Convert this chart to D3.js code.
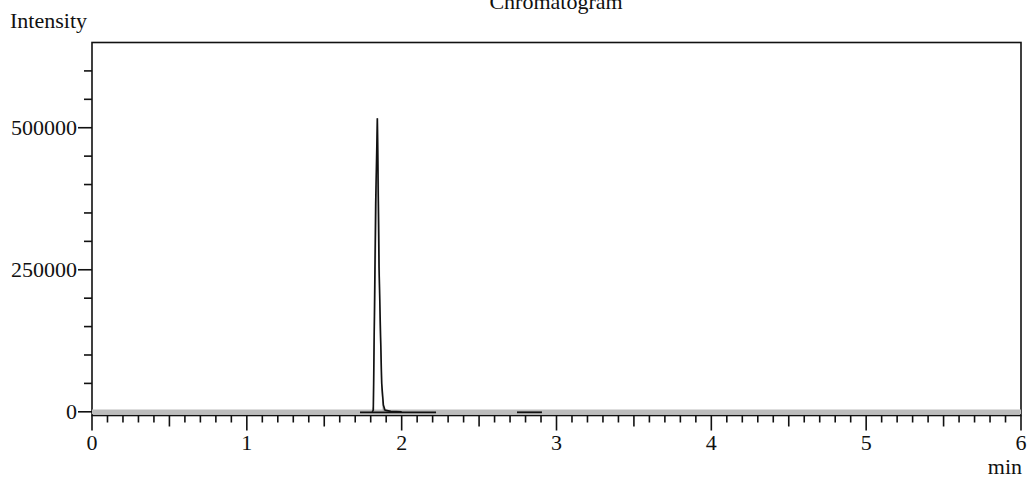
<!DOCTYPE html>
<html><head><meta charset="utf-8">
<script src="https://cdn.jsdelivr.net/npm/d3@7"></script>
<style>body{margin:0;background:#fff}svg{display:block}text{font-family:"Liberation Serif","Times New Roman",serif;fill:#111}</style>
</head><body><svg id="c" width="1029" height="479"></svg>
<script>
// Data (time in min, intensity)
const blackTime  = [1.810, 1.817, 1.832, 1.843, 1.8536, 1.871, 1.882, 1.892, 1.93, 2.00];
const blackValue = [0, 3000, 367000, 516600, 255400, 50200, 12000, 3000, 800, 0];
const grayTime   = [1.810, 1.817, 1.828, 1.843, 1.849, 1.860, 1.872, 1.882, 1.92];
const grayValue  = [0, 9000, 214000, 516600, 425600, 155800, 40000, 3000, 0];
const baselineTime  = [0, 6];
const baselineValue = [0, 0];
const integStart = [1.731, 2.745];
const integEnd   = [2.222, 2.906];
const xTicksMajor = [0, 1, 2, 3, 4, 5, 6];
const yTicksMajor = [0, 250000, 500000];

const svg = d3.select("#c");
const x = d3.scaleLinear().domain([0, 6]).range([92, 1021]);
const y = d3.scaleLinear().domain([-6500, 650000]).range([415.5, 42.5]);

// frame
svg.append("rect").attr("x", 92).attr("y", 42.5).attr("width", 929).attr("height", 373)
  .attr("fill", "none").attr("stroke", "#111").attr("stroke-width", 1.6);

// gray baseline band
const line = d3.line().x(d => x(d[0])).y(d => y(d[1]));
svg.append("path").attr("d", line(d3.zip(baselineTime, baselineValue)))
  .attr("stroke", "#bdbdbd").attr("stroke-width", 4.5).attr("fill", "none");

// traces
svg.append("path").attr("d", line(d3.zip(grayTime, grayValue)))
  .attr("stroke", "#9a9a9a").attr("stroke-width", 1.3).attr("fill", "none");
svg.append("path").attr("d", line(d3.zip(blackTime, blackValue)))
  .attr("stroke", "#111").attr("stroke-width", 1.6).attr("fill", "none");

// integration baselines
svg.selectAll("line.integ").data(d3.zip(integStart, integEnd)).enter().append("line")
  .attr("x1", d => x(d[0])).attr("x2", d => x(d[1]))
  .attr("y1", y(0) + 0.5).attr("y2", y(0) + 0.5)
  .attr("stroke", "#111").attr("stroke-width", 1.8);

// x axis ticks
const xAxisY = 415.5;
const xMinor = d3.range(0, 61).map(i => i / 10);
svg.selectAll("line.xt").data(xMinor).enter().append("line")
  .attr("x1", d => x(d)).attr("x2", d => x(d))
  .attr("y1", xAxisY)
  .attr("y2", (d, i) => xAxisY + (i % 10 === 0 ? 15 : i % 5 === 0 ? 11 : 7))
  .attr("stroke", "#111").attr("stroke-width", 1.6);
svg.selectAll("text.xl").data(xTicksMajor).enter().append("text")
  .attr("x", d => x(d)).attr("y", 450).attr("text-anchor", "middle")
  .attr("font-size", 22).text(d => d);

// y axis ticks
const yMinor = d3.range(0, 13).map(i => i * 50000);
svg.selectAll("line.yt").data(yMinor).enter().append("line")
  .attr("x1", d => yTicksMajor.includes(d) ? 78 : 84).attr("x2", 92)
  .attr("y1", d => y(d)).attr("y2", d => y(d))
  .attr("stroke", "#111").attr("stroke-width", 1.6);
svg.selectAll("text.yl").data(yTicksMajor).enter().append("text")
  .attr("x", 77).attr("y", d => y(d) + 7).attr("text-anchor", "end")
  .attr("font-size", 22).text(d => d);

// labels
svg.append("text").attr("x", 10).attr("y", 28).attr("font-size", 22).text("Intensity");
svg.append("text").attr("x", 1022).attr("y", 474).attr("text-anchor", "end").attr("font-size", 22).text("min");
svg.append("text").attr("x", 556).attr("y", 9).attr("text-anchor", "middle").attr("font-size", 22).text("Chromatogram");
</script></body></html>
